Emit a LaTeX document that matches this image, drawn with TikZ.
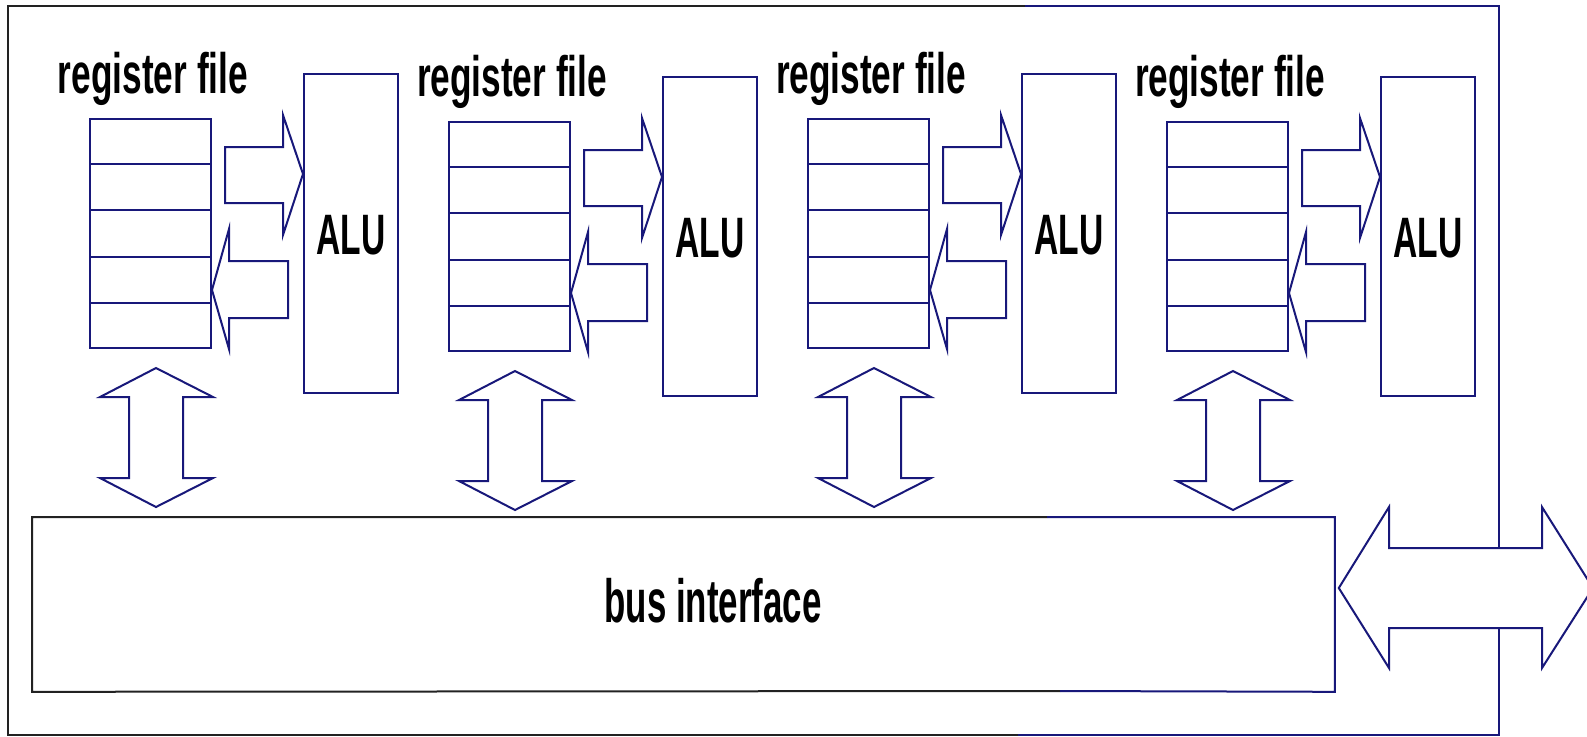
\documentclass[tikz,border=0pt]{standalone}
\usepackage{fontspec}
\usepackage{graphicx}
\newfontfamily\lsans{Liberation Sans}
\usetikzlibrary{calc}
\definecolor{navy}{RGB}{24,24,122}
\definecolor{darkline}{RGB}{34,34,34}
\tikzset{
  box/.style={draw=navy, line width=1pt, inner sep=0pt, fill=white},
  blockarrow/.style={draw=navy, line width=1pt, fill=white, line join=miter},
  lbl/.style={inner sep=0pt, anchor=base, text=black, font=\lsans\bfseries\fontsize{28.5}{30}\selectfont},
  frameblack/.style={draw=darkline, line width=1pt},
  framenavy/.style={draw=navy, line width=1pt},
}
\begin{document}
\begin{tikzpicture}[x=0.5pt, y=-0.5pt]
\useasboundingbox (0,0) rectangle (1587,736);
\clip (0,0) rectangle (1587,736);
\fill[white] (0,0) rectangle (1587,736);
% outer frame
\coordinate (ftl) at (8,6);
\coordinate (fbr) at (1499,735);
\draw[frameblack] (1025,6) -- (ftl) -- (ftl |- fbr) -- (1018,735);
\draw[framenavy] (1025,6) -- (fbr |- ftl) -- (fbr) -- (1018,735);
% bus interface box
\node[inner sep=0pt, minimum width=651pt, minimum height=87pt, anchor=north west] (bus) at (32,517) {};
\draw[frameblack] (1047,517) -- (bus.north west) -- (bus.south west) -- (1060,691);
\draw[framenavy] (1047,517) -- (bus.north east) -- (bus.south east) -- (1060,691);
\node[lbl, font=\lsans\bfseries\fontsize{30.5}{32}\selectfont] (bustext) at (713,622) {\resizebox{108.5pt}{\height}{bus interface}};
% units
\foreach \i/\dx/\dy in {1/0/0, 2/359/3, 3/718/0, 4/1077/3}{
  \begin{scope}[shift={(\dx,\dy)}]
    \node[lbl] (rt\i) at (153,93) {\resizebox{95pt}{\height}{register file}};
    \node[box, minimum width=60.5pt, minimum height=114.5pt, anchor=north west] (reg\i) at (89,118) {};
    \foreach \k in {1,...,4}{
      \draw[navy, line width=1pt] ($(reg\i.north west)!\k/5!(reg\i.south west)$) -- ($(reg\i.north east)!\k/5!(reg\i.south east)$);
    }
    \node[box, minimum width=47pt, minimum height=159.5pt, anchor=north west] (alu\i) at (303,73) {};
    \node[lbl] (alut\i) at ($(alu\i.center)+(0,20.5)$) {\resizebox{34.5pt}{\height}{ALU}};
    % reg -> ALU
    \draw[blockarrow] (225,147) -- (283,147) -- (283,115) -- (alu\i.west |- 0,174) -- (283,235) -- (283,203) -- (225,203) -- cycle;
    % ALU -> reg
    \draw[blockarrow] (reg\i.east |- 0,290) -- (229,229) -- (229,261) -- (288,261) -- (288,318) -- (229,318) -- (229,349) -- cycle;
    % reg <-> bus
    \draw[blockarrow] (156,368) -- (213,397) -- (183,397) -- (183,478) -- (213,478) -- (156,507) -- (100,478) -- (129,478) -- (129,397) -- (100,397) -- cycle;
  \end{scope}
}
% external bus arrow
\draw[blockarrow] (bus.east |- 0,588) ++(4,0) coordinate (bt) -- (1389,507) -- (1389,548) -- (1542,548) -- (1542,507) -- (1593,588) -- (1542,668) -- (1542,628) -- (1389,628) -- (1389,668) -- cycle;
\end{tikzpicture}
\end{document}
